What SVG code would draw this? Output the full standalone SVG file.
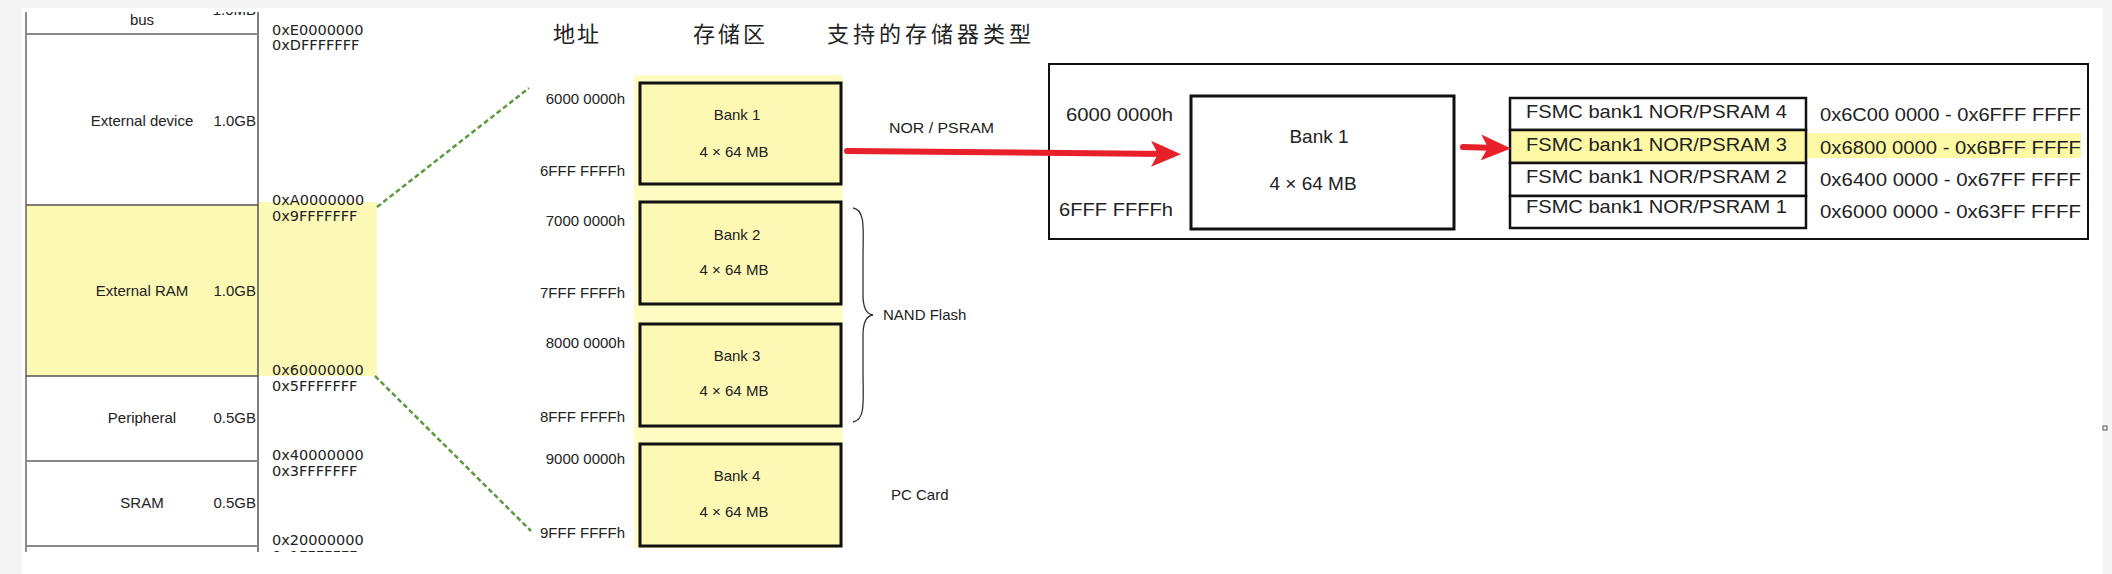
<svg xmlns="http://www.w3.org/2000/svg" width="2112" height="574" viewBox="0 0 2112 574">
<style>
.t{font-family:"Liberation Sans",Arial,sans-serif;fill:#222}
.s15{font-size:15px}
.s19{font-size:19px}
.addr{font-family:"DejaVu Sans",sans-serif;font-size:14.5px;fill:#222}
.cjk{font-family:"Noto Sans CJK SC",sans-serif;font-size:22px;fill:#222}
.hl{stroke:#888;stroke-width:2}
.bank{fill:#fdf9b4;stroke:#111;stroke-width:3}
.cell{fill:#fff;stroke:#111;stroke-width:2.5}
.green{stroke:#5b9b3c;stroke-width:2.5;stroke-dasharray:5 3;fill:none}
.red{stroke:#e8202a;stroke-width:6;stroke-linecap:round;fill:none}
</style>
<defs>
<clipPath id="clipL"><rect x="20" y="12" width="370" height="540"/></clipPath>
<marker id="ah" markerUnits="userSpaceOnUse" markerWidth="32" markerHeight="28" refX="16" refY="13" orient="auto">
<path d="M0,0 L30,13 L0,26 L7,13 z" fill="#e8202a"/>
</marker>
</defs>
<rect x="0" y="0" width="2112" height="574" fill="#f4f4f4"/>
<rect x="22" y="8" width="2081" height="566" fill="#fff"/>
<rect x="2103" y="426" width="4" height="4" fill="none" stroke="#555" stroke-width="1"/>

<g id="memmap" clip-path="url(#clipL)">
<rect x="26" y="205" width="232" height="171" fill="#fcf9b4"/>
<rect x="258" y="202" width="119" height="174" fill="#fdfab8"/>
<line x1="26" y1="0" x2="26" y2="552" stroke="#666" stroke-width="1.5"/>
<line x1="258" y1="0" x2="258" y2="552" stroke="#555" stroke-width="1.5"/>
<line class="hl" x1="26" y1="34" x2="258" y2="34"/>
<line x1="26" y1="205" x2="258" y2="205" stroke="#555" stroke-width="1.5"/>
<line x1="26" y1="376" x2="258" y2="376" stroke="#555" stroke-width="1.5"/>
<line class="hl" x1="26" y1="461" x2="258" y2="461"/>
<line class="hl" x1="26" y1="546" x2="258" y2="546"/>
<g id="cell-bus"><text class="t s15" x="142" y="25" text-anchor="middle">bus</text><text class="t s15" x="256" y="15" text-anchor="end">1.0MB</text></g>
<g id="cell-extdev"><text class="t s15" x="142" y="126" text-anchor="middle">External device</text><text class="t s15" x="256" y="126" text-anchor="end">1.0GB</text></g>
<g id="cell-extram"><text class="t s15" x="142" y="296" text-anchor="middle">External RAM</text><text class="t s15" x="256" y="296" text-anchor="end">1.0GB</text></g>
<g id="cell-periph"><text class="t s15" x="142" y="423" text-anchor="middle">Peripheral</text><text class="t s15" x="256" y="423" text-anchor="end">0.5GB</text></g>
<g id="cell-sram"><text class="t s15" x="142" y="508" text-anchor="middle">SRAM</text><text class="t s15" x="256" y="508" text-anchor="end">0.5GB</text></g>
<g id="addresses">
<text class="addr" x="272" y="35">0xE0000000</text>
<text class="addr" x="272" y="50">0xDFFFFFFF</text>
<text class="addr" x="272" y="205">0xA0000000</text>
<text class="addr" x="272" y="221">0x9FFFFFFF</text>
<text class="addr" x="272" y="375">0x60000000</text>
<text class="addr" x="272" y="391">0x5FFFFFFF</text>
<text class="addr" x="272" y="460">0x40000000</text>
<text class="addr" x="272" y="476">0x3FFFFFFF</text>
<text class="addr" x="272" y="545">0x20000000</text>
<text class="addr" x="272" y="561">0x1FFFFFFF</text>
</g>
</g>

<g id="headers">
<text class="cjk" x="553" y="42" letter-spacing="2">地址</text>
<text class="cjk" x="693" y="42" letter-spacing="3">存储区</text>
<text class="cjk" x="827" y="42" letter-spacing="4">支持的存储器类型</text>
</g>

<g id="bank-column">
<rect x="634" y="75" width="209" height="473" fill="#fefbc3"/>
</g>
<g id="bank1"><rect class="bank" x="640" y="83" width="201" height="101"/><text class="t s15" x="737" y="120" text-anchor="middle">Bank 1</text><text class="t s15" x="734" y="157" text-anchor="middle">4 × 64 MB</text></g>
<g id="bank2"><rect class="bank" x="640" y="202" width="201" height="102"/><text class="t s15" x="737" y="240" text-anchor="middle">Bank 2</text><text class="t s15" x="734" y="275" text-anchor="middle">4 × 64 MB</text></g>
<g id="bank3"><rect class="bank" x="640" y="324" width="201" height="102"/><text class="t s15" x="737" y="361" text-anchor="middle">Bank 3</text><text class="t s15" x="734" y="396" text-anchor="middle">4 × 64 MB</text></g>
<g id="bank4"><rect class="bank" x="640" y="444" width="201" height="102"/><text class="t s15" x="737" y="481" text-anchor="middle">Bank 4</text><text class="t s15" x="734" y="517" text-anchor="middle">4 × 64 MB</text></g>

<g id="bank-addresses">
<text class="t s15" x="625" y="104" text-anchor="end">6000 0000h</text>
<text class="t s15" x="625" y="176" text-anchor="end">6FFF FFFFh</text>
<text class="t s15" x="625" y="226" text-anchor="end">7000 0000h</text>
<text class="t s15" x="625" y="298" text-anchor="end">7FFF FFFFh</text>
<text class="t s15" x="625" y="348" text-anchor="end">8000 0000h</text>
<text class="t s15" x="625" y="422" text-anchor="end">8FFF FFFFh</text>
<text class="t s15" x="625" y="464" text-anchor="end">9000 0000h</text>
<text class="t s15" x="625" y="538" text-anchor="end">9FFF FFFFh</text>
</g>

<g id="type-labels">
<text class="t s15" x="889" y="133" textLength="105" lengthAdjust="spacingAndGlyphs">NOR / PSRAM</text>
<path d="M853,208 C866,210 863,230 863,260 L863,295 C863,308 866,314 873,315 C866,316 863,322 863,335 L863,370 C863,400 866,420 853,422" fill="none" stroke="#333" stroke-width="1.3"/>
<text class="t s15" x="883" y="320">NAND Flash</text>
<text class="t s15" x="891" y="500">PC Card</text>
</g>

<g id="detail-box">
<rect x="1049" y="64" width="1039" height="175" fill="#fff" stroke="#111" stroke-width="2"/>
<text class="t s19" x="1066" y="121" textLength="107" lengthAdjust="spacingAndGlyphs">6000 0000h</text>
<text class="t s19" x="1059" y="216" textLength="114" lengthAdjust="spacingAndGlyphs">6FFF FFFFh</text>
</g>
<g id="detail-bank1">
<rect x="1191" y="96" width="263" height="133" fill="#fff" stroke="#111" stroke-width="3"/>
<text class="t s19" x="1319" y="143" text-anchor="middle">Bank 1</text>
<text class="t s19" x="1313" y="190" text-anchor="middle">4 × 64 MB</text>
</g>
<g id="fsmc-table">
<rect x="1806" y="133" width="275" height="25" fill="#fdf8a4"/>
<rect class="cell" x="1510" y="98" width="296" height="32"/>
<rect class="cell" x="1510" y="130" width="296" height="33" style="fill:#fdf8a4"/>
<rect class="cell" x="1510" y="163" width="296" height="33"/>
<rect class="cell" x="1510" y="196" width="296" height="32"/>
<text class="t s19" x="1526" y="118" textLength="261" lengthAdjust="spacingAndGlyphs">FSMC bank1 NOR/PSRAM 4</text>
<text class="t s19" x="1526" y="151" textLength="261" lengthAdjust="spacingAndGlyphs">FSMC bank1 NOR/PSRAM 3</text>
<text class="t s19" x="1526" y="183" textLength="261" lengthAdjust="spacingAndGlyphs">FSMC bank1 NOR/PSRAM 2</text>
<text class="t s19" x="1526" y="213" textLength="261" lengthAdjust="spacingAndGlyphs">FSMC bank1 NOR/PSRAM 1</text>
<text class="t s19" x="1820" y="121" textLength="261" lengthAdjust="spacingAndGlyphs">0x6C00 0000 - 0x6FFF FFFF</text>
<text class="t s19" x="1820" y="154" textLength="261" lengthAdjust="spacingAndGlyphs">0x6800 0000 - 0x6BFF FFFF</text>
<text class="t s19" x="1820" y="186" textLength="261" lengthAdjust="spacingAndGlyphs">0x6400 0000 - 0x67FF FFFF</text>
<text class="t s19" x="1820" y="218" textLength="261" lengthAdjust="spacingAndGlyphs">0x6000 0000 - 0x63FF FFFF</text>
</g>

<g id="connectors">
<line class="green" x1="377" y1="207" x2="529" y2="88"/>
<line class="green" x1="375" y1="376" x2="531" y2="531"/>
<path class="red" d="M847,151 L1167,154" marker-end="url(#ah)"/>
<path class="red" d="M1463,147 L1497,148" marker-end="url(#ah)"/>
</g>
</svg>
